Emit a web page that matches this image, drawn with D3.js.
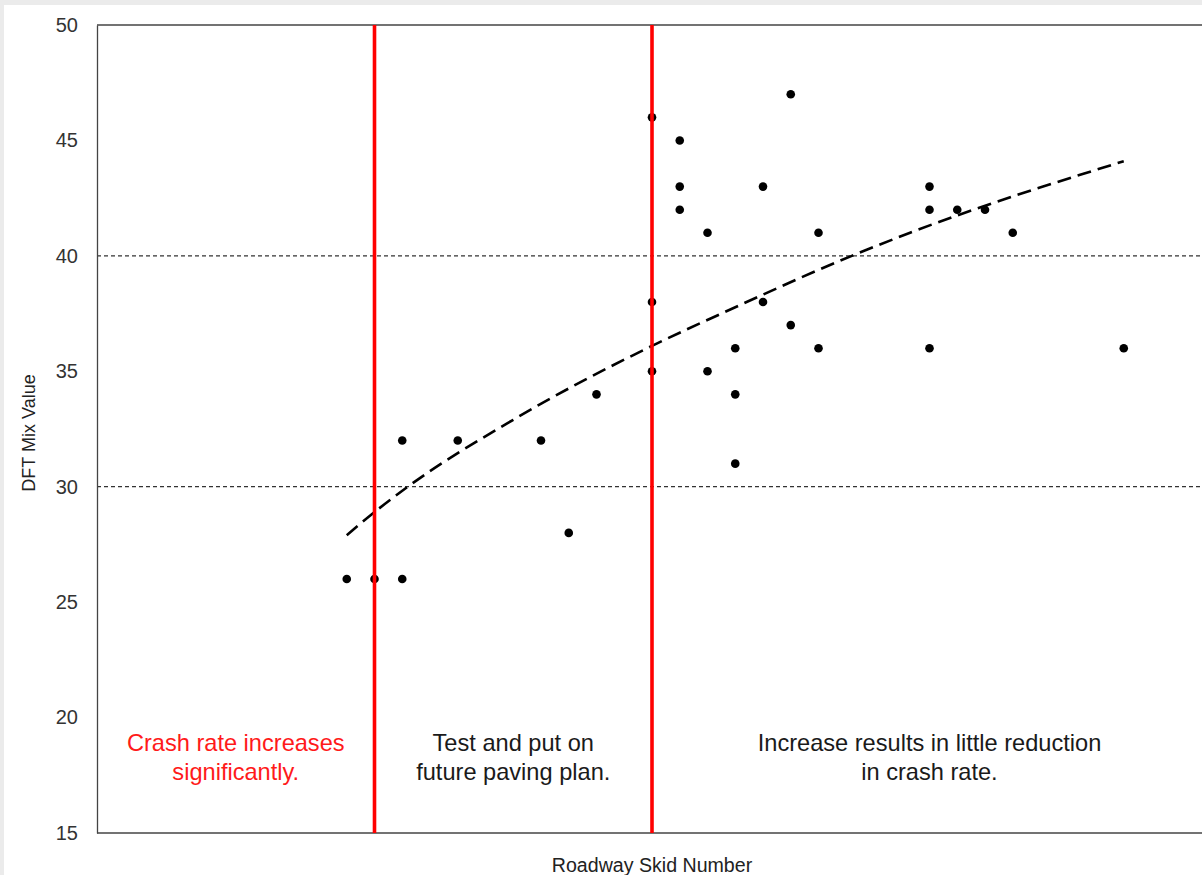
<!DOCTYPE html>
<html><head><meta charset="utf-8">
<script src="https://cdn.jsdelivr.net/npm/d3@7"></script>
<style>body{margin:0;background:#fff}svg{display:block}</style>
</head><body>
<svg id="c" width="1202" height="875"></svg>
<script>
// ---- data ----
const skidNumber = [29,30,31,31,33,36,37,38,40,40,40,41,41,41,42,42,43,43,43,44,44,45,45,46,46,50,50,50,51,52,53,57];
const dftMix     = [26,26,26,32,32,32,28,34,46,38,35,45,43,42,41,35,36,34,31,43,38,47,37,41,36,43,42,36,42,42,41,36];
const trendX = [29,30,31.2,35,40,42.5,47.2,49.3,57];
const trendY = [27.9,28.9,30.0,32.9,36.1,37.5,40.0,41.0,44.1];
const yTicks = [15,20,25,30,35,40,45,50];
const gridValues = [30,40];
const thresholds = [30,40];
const zoneBounds = [[20,30],[30,40],[40,60]];
const zoneLabels = [["Crash rate increases","significantly."],["Test and put on","future paving plan."],["Increase results in little reduction","in crash rate."]];
const zoneColors = ["#ff1a1a","#1a1a1a","#1a1a1a"];

// ---- drawing ----
const svg = d3.select('#c');
const font = "'Liberation Sans', Arial, sans-serif";
svg.append('rect').attr('width',1202).attr('height',875).attr('fill','#ebebeb');
svg.append('rect').attr('x',4).attr('y',5).attr('width',1198).attr('height',870).attr('fill','#fff');

const x = d3.scaleLinear().domain([20,60]).range([97,1207]);
const y = d3.scaleLinear().domain([15,50]).range([833,25]);

// gridlines
svg.append('g').selectAll('line').data(gridValues).join('line')
  .attr('x1',x(20)).attr('x2',x(60)).attr('y1',d=>y(d)).attr('y2',d=>y(d))
  .attr('stroke','#333').attr('stroke-width',1.2).attr('stroke-dasharray','4,3');

// frame lines
const frame = svg.append('g').attr('stroke','#444').attr('stroke-width',1.3);
frame.append('line').attr('x1',x(20)).attr('x2',x(60)).attr('y1',y(50)).attr('y2',y(50));
frame.append('line').attr('x1',x(20)).attr('x2',x(60)).attr('y1',y(15)).attr('y2',y(15));

// y axis
const ya = svg.append('g').attr('transform',`translate(${x(20)},0)`)
  .call(d3.axisLeft(y).tickValues(yTicks).tickSize(0).tickPadding(19).tickFormat(d3.format('d')));
ya.select('.domain').attr('stroke','#444').attr('stroke-width',1.3);
ya.selectAll('text').attr('font-family',font).attr('font-size',20).attr('fill','#333');

// trend line
const line = d3.line().x(d=>x(d[0])).y(d=>y(d[1])).curve(d3.curveMonotoneX);
svg.append('path').datum(trendX.map((v,i)=>[v,trendY[i]]))
  .attr('d',line).attr('fill','none').attr('stroke','#000').attr('stroke-width',2.6)
  .attr('stroke-dasharray','14,7');

// points
svg.append('g').selectAll('circle').data(skidNumber.map((v,i)=>[v,dftMix[i]])).join('circle')
  .attr('cx',d=>x(d[0])).attr('cy',d=>y(d[1])).attr('r',4.3).attr('fill','#000');

// threshold lines
svg.append('g').selectAll('line').data(thresholds).join('line')
  .attr('x1',d=>x(d)).attr('x2',d=>x(d)).attr('y1',y(50)).attr('y2',y(15))
  .attr('stroke','#ff0000').attr('stroke-width',3.6);

// zone labels
const zl = svg.append('g').selectAll('text').data(zoneBounds).join('text')
  .attr('y',751)
  .attr('text-anchor','middle').attr('font-family',font).attr('font-size',23.6)
  .attr('fill',(d,i)=>zoneColors[i]);
zl.each(function(d,i){
  const t = d3.select(this);
  zoneLabels[i].forEach((s,j)=>{
    t.append('tspan').attr('x',(x(d[0])+x(d[1]))/2).attr('dy', j===0?0:29).text(s);
  });
});

// axis titles
svg.append('text').attr('x',652).attr('y',872).attr('text-anchor','middle')
  .attr('font-family',font).attr('font-size',19.6).attr('fill','#222').text('Roadway Skid Number');
svg.append('text').attr('transform','translate(35,433) rotate(-90)').attr('text-anchor','middle')
  .attr('font-family',font).attr('font-size',18).attr('fill','#222').text('DFT Mix Value');
</script>
</body></html>
